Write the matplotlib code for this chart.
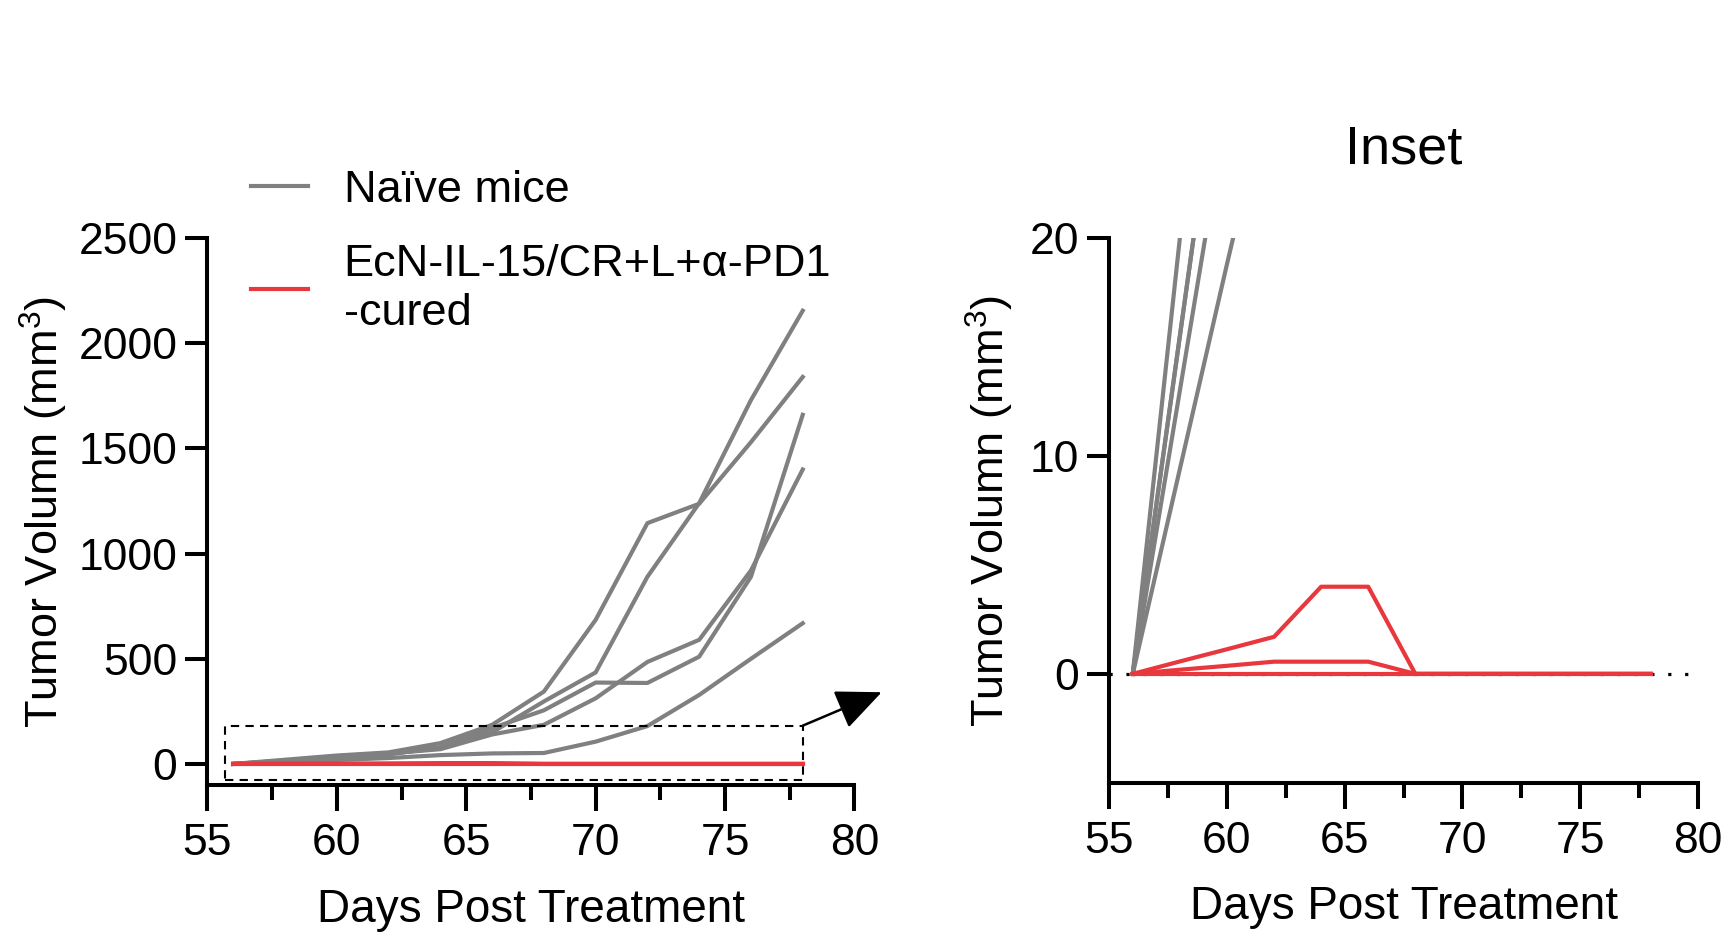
import matplotlib
matplotlib.use('Agg')
import matplotlib.pyplot as plt
from matplotlib.patches import Rectangle
from matplotlib.ticker import MultipleLocator, FixedLocator, NullLocator

plt.rcParams['font.family'] = ['Liberation Sans', 'DejaVu Sans']
plt.rcParams['mathtext.fontset'] = 'custom'
plt.rcParams['mathtext.rm'] = 'Liberation Sans'
plt.rcParams['mathtext.it'] = 'Liberation Sans:italic'
plt.rcParams['mathtext.bf'] = 'Liberation Sans:bold'

# ---------------- data ----------------
days = [56, 58, 60, 62, 64, 66, 68, 70, 72, 74, 76, 78]

naive_1 = [0, 15.5, 31, 48, 75, 150, 297, 435, 890, 1240, 1730, 2155]
naive_2 = [0, 20, 40, 55, 99, 186, 344, 685, 1145, 1237, 1530, 1840]
naive_3 = [0, 13, 26, 45, 80, 170, 255, 387, 385, 510, 890, 1660]
naive_4 = [0, 15.5, 31, 50, 70, 140, 186, 312, 485, 590, 920, 1400]
naive_5 = [0, 9.4, 18.8, 28, 42, 50, 52, 106, 180, 328, 500, 669]
naive_series = [naive_1, naive_2, naive_3, naive_4, naive_5]

cured_1 = [0, 0.57, 1.13, 1.7, 4.0, 4.0, 0, 0, 0, 0, 0, 0]
cured_2 = [0, 0.19, 0.37, 0.56, 0.56, 0.56, 0, 0, 0, 0, 0, 0]
cured_3 = [0, 0, 0, 0, 0, 0, 0, 0, 0, 0, 0, 0]
cured_series = [cured_1, cured_2, cured_3]

legend_labels = ['Naïve mice', 'EcN-IL-15/CR+L+α-PD1\n-cured']
main_yticks = [0, 500, 1000, 1500, 2000, 2500]
inset_yticks = [0, 10, 20]
zoom_box = (55.7, -78, 78.0, 182)   # x0, y0, x1, y1 of the dashed region
arrow_tip = (81.05, 341)

GRAY = '#808080'
RED = '#E8383D'
LW = 3.0
FS = 32

fig = plt.figure(figsize=(17.28, 9.42), dpi=100)
ax1 = fig.add_axes([0.1200, 0.1667, 0.3745, 0.5805])
ax2 = fig.add_axes([0.6419, 0.1690, 0.3407, 0.5782])


def style(ax):
    for s in ['top', 'right']:
        ax.spines[s].set_visible(False)
    for s in ['left', 'bottom']:
        ax.spines[s].set_linewidth(2.9)
    ax.set_xlim(55, 80)
    ax.xaxis.set_major_locator(MultipleLocator(5))
    ax.xaxis.set_minor_locator(MultipleLocator(2.5))
    ax.yaxis.set_minor_locator(NullLocator())
    ax.tick_params(axis='x', which='major', length=18.7, width=2.9,
                   labelsize=FS, pad=9)
    ax.tick_params(axis='x', which='minor', length=10.8, width=2.9)
    ax.tick_params(axis='y', which='major', length=15.6, width=2.9,
                   labelsize=FS, pad=6)
    ax.set_xlabel('Days Post Treatment', fontsize=33)
    ax.set_ylabel(r'Tumor Volumn (mm$^{3}$)', fontsize=32.5)


# ---------------- main panel ----------------
style(ax1)
gray_lines = []
for s in naive_series:
    l, = ax1.plot(days, s, color=GRAY, lw=LW, zorder=3)
    gray_lines.append(l)
red_lines = []
for s in cured_series:
    l, = ax1.plot(days, s, color=RED, lw=LW, zorder=4)
    red_lines.append(l)
ax1.set_ylim(-100, 2500)
ax1.yaxis.set_major_locator(FixedLocator(main_yticks))
ax1.xaxis.set_label_coords(0.5, -0.188)
ax1.yaxis.set_label_coords(-0.212, 0.5)

x0, y0, x1, y1 = zoom_box
rect = Rectangle((x0, y0), x1 - x0, y1 - y0, fill=False, edgecolor='black',
                 lw=1.5, linestyle=(0, (4, 3)), zorder=5, clip_on=False)
ax1.add_patch(rect)
ax1.annotate('', xy=arrow_tip, xytext=(x1, y1), xycoords='data',
             annotation_clip=False,
             arrowprops=dict(arrowstyle='-|>,head_length=0.95,head_width=0.42',
                             mutation_scale=30, lw=1.8, color='black',
                             shrinkA=0, shrinkB=0))

leg = ax1.legend([gray_lines[0], red_lines[0]], legend_labels,
                 loc='upper left', bbox_to_anchor=(0.1453, 0.8200),
                 bbox_transform=fig.transFigure, frameon=False, fontsize=32.5,
                 handlelength=1.27, handletextpad=0.78, labelspacing=0.75,
                 borderpad=0, borderaxespad=0)
for t in leg.get_texts():
    t.set_linespacing(1.24)

# ---------------- inset panel ----------------
style(ax2)
ax2.axhline(0, color='black', lw=2.3, linestyle=(0, (1, 4.3)), zorder=1)
for s in naive_series:
    ax2.plot(days, s, color=GRAY, lw=LW, zorder=3)
for s in cured_series:
    ax2.plot(days, s, color=RED, lw=LW, zorder=4)
ax2.set_ylim(-5, 20)
ax2.yaxis.set_major_locator(FixedLocator(inset_yticks))
ax2.xaxis.set_label_coords(0.5, -0.188)
ax2.yaxis.set_label_coords(-0.158, 0.5)
ax2.set_title('Inset', fontsize=39, pad=54)

fig.savefig('out.png', dpi=100)
